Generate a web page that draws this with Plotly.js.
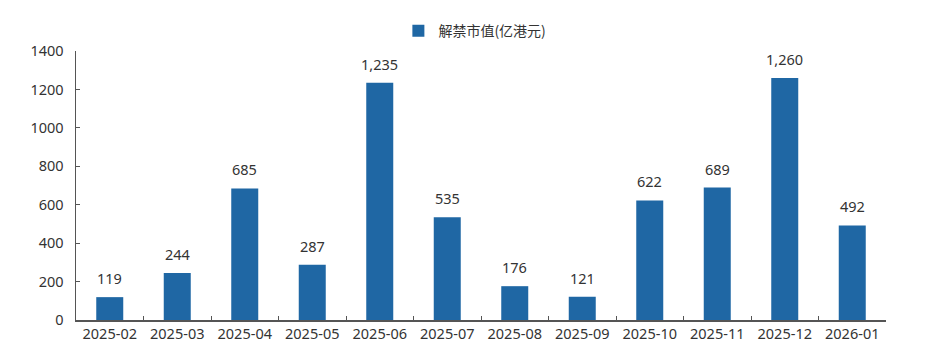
<!DOCTYPE html>
<html><head><meta charset="utf-8">
<script src="https://cdn.plot.ly/plotly-3.0.1.min.js"></script>
<style>html,body{margin:0;padding:0;background:#fff}</style>
</head><body>
<div id="chart" style="width:932px;height:361px"></div>
<script>
const months = ["2025-02","2025-03","2025-04","2025-05","2025-06","2025-07","2025-08","2025-09","2025-10","2025-11","2025-12","2026-01"];
const unlockValue = [119,244,685,287,1235,535,176,121,622,689,1260,492];
const seriesName = "解禁市值(亿港元)";

const trace = {
  type: "bar", x: months, y: unlockValue, name: seriesName,
  marker: {color: "#1f67a4"},
  cliponaxis: false,
  hoverinfo: "x+y"
};
const labels = months.map((m, i) => ({
  x: m, y: unlockValue[i], xref: "x", yref: "y",
  text: unlockValue[i].toLocaleString("en-US"),
  showarrow: false, yanchor: "bottom", yshift: 7,
  font: {family: "Noto Sans, Open Sans, sans-serif", size: 14.5, color: "#333"}
}));
const layout = {
  width: 932, height: 361,
  margin: {l: 76, r: 46, t: 51, b: 41},
  paper_bgcolor: "#fff", plot_bgcolor: "#fff",
  font: {family: "Noto Sans, Open Sans, sans-serif", size: 14, color: "#333"},
  bargap: 0.6,
  showlegend: true,
  annotations: labels,
  legend: {orientation: "h", x: 0.398, xanchor: "left", y: 1.074, yanchor: "middle",
           font: {family: "Noto Sans CJK SC, Noto Sans, sans-serif", size: 14, color: "#333"}},
  xaxis: {type: "category", showline: true, linecolor: "#555", linewidth: 1.5,
          ticks: "inside", tickson: "boundaries", ticklen: 4, tickcolor: "#555",
          showgrid: false, zeroline: false, tickfont: {size: 14.5, color: "#333"}},
  yaxis: {range: [0, 1400], dtick: 200, showline: true, linecolor: "#555", linewidth: 1.5,
          ticks: "inside", ticklen: 4, tickcolor: "#555", showgrid: false, zeroline: false,
          ticklabelstandoff: 8,
          tickformat: "d", tickfont: {size: 14.5, color: "#333"}}
};
Plotly.newPlot("chart", [trace], layout, {displayModeBar: false, staticPlot: true});
</script>
</body></html>
